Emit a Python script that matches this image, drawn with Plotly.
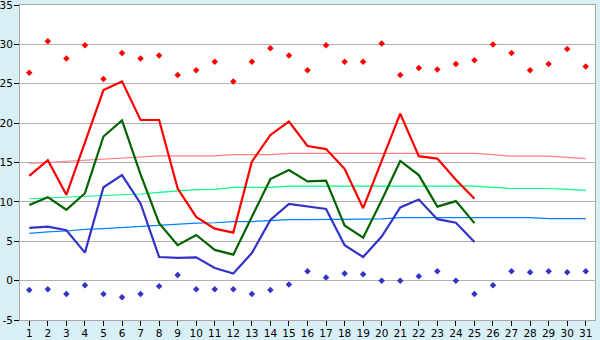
import plotly.graph_objects as go

days = list(range(1, 32))
tick_labels = [str(d) for d in days]
y_ticks = [-5, 0, 5, 10, 15, 20, 25, 30, 35]
y_tick_labels = ["-5", "0", "5", "10", "15", "20", "25", "30", "35"]

record_max = [26.4, 30.4, 28.2, 29.9, 25.6, 28.9, 28.2, 28.6, 26.1, 26.7,
              27.8, 25.3, 27.8, 29.5, 28.6, 26.7, 29.9, 27.8, 27.8, 30.1,
              26.1, 27.0, 26.8, 27.5, 28.0, 30.0, 28.9, 26.7, 27.5, 29.4, 27.2]
record_min = [-1.2, -1.1, -1.7, -0.6, -1.7, -2.1, -1.7, -0.7, 0.7, -1.1,
              -1.1, -1.1, -1.7, -1.2, -0.5, 1.2, 0.4, 0.9, 0.8, 0.0,
              0.0, 0.55, 1.2, 0.0, -1.7, -0.6, 1.2, 1.05, 1.2, 1.05, 1.2]

daily_max = [13.3, 15.3, 10.9, 17.6, 24.2, 25.3, 20.4, 20.4, 11.7, 8.1,
             6.6, 6.1, 15.1, 18.5, 20.2, 17.1, 16.7, 14.2, 9.2, 15.2,
             21.2, 15.8, 15.5, 12.8, 10.4]
daily_mean = [9.6, 10.6, 9.0, 11.1, 18.3, 20.35, 13.5, 7.3, 4.5, 5.8,
              3.9, 3.3, 8.1, 12.9, 14.05, 12.6, 12.7, 7.0, 5.45, 10.2,
              15.2, 13.4, 9.4, 10.1, 7.3]
daily_min = [6.7, 6.85, 6.4, 3.55, 11.85, 13.4, 9.8, 3.0, 2.9, 2.95,
             1.6, 0.9, 3.5, 7.7, 9.75, 9.4, 9.1, 4.5, 3.0, 5.6,
             9.3, 10.3, 7.8, 7.35, 4.9]

normal_max = [14.87, 15.0, 15.2, 15.3, 15.4, 15.53, 15.65, 15.83, 15.83, 15.83,
              15.83, 16.0, 16.0, 16.0, 16.16, 16.16, 16.16, 16.16, 16.16, 16.16,
              16.16, 16.16, 16.16, 16.16, 16.16, 16.0, 15.8, 15.8, 15.8, 15.65, 15.5]
normal_mean = [10.4, 10.5, 10.6, 10.7, 10.8, 10.9, 11.0, 11.2, 11.4, 11.55,
               11.6, 11.85, 11.85, 11.85, 12.0, 12.0, 12.0, 12.0, 12.0, 12.0,
               12.0, 12.0, 12.0, 12.0, 12.0, 11.85, 11.7, 11.7, 11.7, 11.6, 11.45]
normal_min = [6.0, 6.2, 6.3, 6.5, 6.6, 6.75, 6.85, 7.0, 7.15, 7.3,
              7.35, 7.5, 7.5, 7.6, 7.75, 7.75, 7.75, 7.8, 7.8, 7.85,
              8.0, 8.0, 8.0, 8.0, 8.0, 8.0, 8.0, 8.0, 7.87, 7.87, 7.87]

fig = go.Figure()

fig.add_trace(go.Scatter(x=days, y=normal_max, mode="lines",
                         line=dict(color="#ff8080", width=1.2), hoverinfo="skip"))
fig.add_trace(go.Scatter(x=days, y=normal_mean, mode="lines",
                         line=dict(color="#00ff80", width=1.2), hoverinfo="skip"))
fig.add_trace(go.Scatter(x=days, y=normal_min, mode="lines",
                         line=dict(color="#0080ff", width=1.2), hoverinfo="skip"))

fig.add_trace(go.Scatter(x=days[:len(daily_max)], y=daily_max, mode="lines",
                         line=dict(color="#ff0000", width=2.2)))
fig.add_trace(go.Scatter(x=days[:len(daily_mean)], y=daily_mean, mode="lines",
                         line=dict(color="#006400", width=2.2)))
fig.add_trace(go.Scatter(x=days[:len(daily_min)], y=daily_min, mode="lines",
                         line=dict(color="#3333cc", width=2.2)))

fig.add_trace(go.Scatter(x=days, y=record_max, mode="markers",
                         marker=dict(symbol="diamond", size=5, color="#ff0000")))
fig.add_trace(go.Scatter(x=days, y=record_min, mode="markers",
                         marker=dict(symbol="diamond", size=5, color="#3333cc")))

fig.update_layout(
    width=600, height=340,
    margin=dict(l=20, r=5, t=5, b=20, autoexpand=False),
    paper_bgcolor="#d9eff6",
    plot_bgcolor="#ffffff",
    showlegend=False,
    font=dict(family="DejaVu Sans", size=10.5, color="#000000"),
)
fig.update_xaxes(
    range=[0.5, 31.5], tickmode="array", tickvals=days, ticktext=tick_labels,
    showgrid=False, showline=True, linecolor="#a8a8a8", linewidth=1, mirror=True,
    ticks="outside", ticklen=5, tickcolor="#000000", zeroline=False,
    fixedrange=True, automargin=False, ticklabelstandoff=-2,
    ticklabeloverflow="allow",
)
fig.update_yaxes(
    range=[-5, 35], tickmode="array", tickvals=y_ticks, ticktext=y_tick_labels,
    showgrid=True, gridcolor="#b0b0b0", gridwidth=1,
    showline=True, linecolor="#a8a8a8", linewidth=1, mirror=True,
    ticks="outside", ticklen=5, tickcolor="#000000", zeroline=False,
    fixedrange=True, automargin=False, ticklabelstandoff=-1,
    ticklabeloverflow="allow",
)

fig.write_html("out.html", config={"displayModeBar": False})
